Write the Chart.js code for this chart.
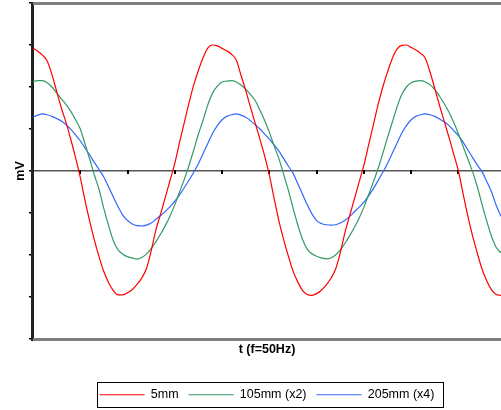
<!DOCTYPE html>
<html>
<head>
<meta charset="utf-8">
<script src="https://cdn.jsdelivr.net/npm/chart.js@4"></script>
<style>
  body { margin: 0; background: #fff; }
  #wrap { width: 501px; height: 410px; }
</style>
</head>
<body>
<div id="wrap"><canvas id="myChart"></canvas></div>
<script>
// sample times in ms (0.5 ms steps)
const times = Array.from({ length: 100 }, (_, i) => i * 0.5);
const xTicks = [5, 10, 15, 20, 25, 30, 35, 40, 45];
const seriesNames = ["5mm", "105mm (x2)", "205mm (x4)"];

// 5mm
const red5mm = [
  2.93, 2.85, 2.76, 2.62, 2.3, 1.9, 1.5, 1.15, 0.75, 0.32,
  -0.15, -0.7, -1.2, -1.65, -2.05, -2.4, -2.66, -2.85, -2.95, -2.95,
  -2.9, -2.82, -2.7, -2.55, -2.32, -1.9, -1.4, -1.02, -0.62, -0.22,
  0.18, 0.68, 1.15, 1.62, 2.05, 2.4, 2.7, 2.93, 3.0, 2.98,
  2.92, 2.86, 2.78, 2.64, 2.28, 1.92, 1.52, 1.14, 0.76, 0.36,
  -0.1, -0.65, -1.18, -1.62, -2.02, -2.38, -2.64, -2.84, -2.94, -2.96,
  -2.92, -2.84, -2.72, -2.56, -2.34, -1.95, -1.46, -1.06, -0.66, -0.26,
  0.14, 0.62, 1.1, 1.58, 2.0, 2.36, 2.68, 2.9, 2.99, 3.0,
  2.94, 2.88, 2.8, 2.68, 2.35, 1.96, 1.56, 1.18, 0.8, 0.4,
  0.0, -0.55, -1.08, -1.55, -1.96, -2.34, -2.62, -2.83, -2.94, -2.96
];
// 105mm (x2)
const green105mm = [
  2.13, 2.15, 2.15, 2.1, 2.0, 1.86, 1.72, 1.58, 1.42, 1.22,
  1.0, 0.65, 0.28, -0.1, -0.45, -0.9, -1.3, -1.66, -1.88, -1.98,
  -2.04, -2.07, -2.1, -2.06, -1.98, -1.85, -1.68, -1.5, -1.3, -1.07,
  -0.8, -0.5, -0.2, 0.13, 0.5, 0.88, 1.22, 1.58, 1.86, 2.02,
  2.12, 2.14, 2.15, 2.12, 2.05, 1.95, 1.82, 1.68, 1.45, 1.2,
  0.92, 0.6, 0.3, -0.07, -0.45, -0.88, -1.28, -1.62, -1.86, -1.97,
  -2.03, -2.07, -2.09, -2.07, -2.0, -1.88, -1.72, -1.54, -1.34, -1.12,
  -0.86, -0.56, -0.26, 0.06, 0.42, 0.8, 1.16, 1.52, 1.82, 2.0,
  2.1, 2.14, 2.15, 2.12, 2.05, 1.94, 1.78, 1.6, 1.4, 1.16,
  0.88, 0.58, 0.28, -0.02, -0.38, -0.8, -1.2, -1.56, -1.82, -1.95
];
// 205mm (x4)
const blue205mm = [
  1.28, 1.33, 1.36, 1.34, 1.3, 1.25, 1.19, 1.1, 0.99, 0.86,
  0.72, 0.55, 0.38, 0.2, 0.03, -0.15, -0.38, -0.62, -0.85, -1.05,
  -1.18, -1.26, -1.3, -1.31, -1.29, -1.24, -1.15, -1.06, -0.96, -0.85,
  -0.72, -0.57, -0.4, -0.22, -0.03, 0.18, 0.42, 0.66, 0.9, 1.08,
  1.22, 1.3, 1.34, 1.36, 1.33, 1.28, 1.2, 1.1, 1.0, 0.88,
  0.76, 0.62, 0.48, 0.3, 0.12, -0.05, -0.3, -0.55, -0.8, -1.02,
  -1.18, -1.25, -1.28, -1.29, -1.28, -1.24, -1.17, -1.08, -0.97, -0.86,
  -0.74, -0.59, -0.42, -0.23, -0.03, 0.18, 0.42, 0.66, 0.9, 1.08,
  1.22, 1.3, 1.34, 1.36, 1.34, 1.3, 1.24, 1.17, 1.08, 0.96,
  0.84, 0.68, 0.5, 0.32, 0.14, -0.02, -0.25, -0.5, -0.82, -1.08
];

const font = "Arial, 'Liberation Sans', sans-serif";

// excel-ish frame: top/bottom lines, ticks on the zero line, legend box
const framePlugin = {
  id: "framePlugin",
  beforeDatasetsDraw(chart) {
    const { ctx, scales } = chart;
    const y0 = scales.y.getPixelForValue(0);
    ctx.save();
    ctx.fillStyle = "#000";
    xTicks.forEach((t) => {
      const x = Math.round(scales.x.getPixelForValue(t));
      ctx.fillRect(x - 1, Math.round(y0) - 1, 2, 4);
    });
    ctx.restore();
  },
  afterDraw(chart) {
    const { ctx, chartArea } = chart;
    const l = Math.round(chartArea.left);
    const t = Math.round(chartArea.top);
    const b = Math.round(chartArea.bottom);
    const w = chart.width - l;
    ctx.save();
    ctx.fillStyle = "#7f7f7f";
    ctx.fillRect(l, t - 1, w, 3);
    ctx.fillRect(l, b - 1, w, 3);
    // left axis over the frame ends
    ctx.fillStyle = "#222";
    ctx.fillRect(l - 2, t - 1, 2, b - t + 3);

    const boxes = chart.legend.legendHitBoxes;
    if (boxes && boxes.length) {
      const bl = Math.min(...boxes.map((bx) => bx.left));
      const br = Math.max(...boxes.map((bx) => bx.left + bx.width));
      const cy = boxes[0].top + boxes[0].height / 2;
      ctx.strokeStyle = "#000";
      ctx.lineWidth = 1;
      ctx.strokeRect(Math.round(bl - 3) + 0.5, Math.round(cy - 12.5) + 0.5, Math.round(br - bl + 11), 25);
    }
    ctx.restore();
  },
};

const chartOne = document.getElementById("myChart").getContext("2d");
const waveChart = new Chart(chartOne, {
  type: "line",
  data: {
    labels: times,
    datasets: [
      { label: seriesNames[0], data: red5mm, borderColor: "#ff0000", backgroundColor: "#ff0000" },
      { label: seriesNames[1], data: green105mm, borderColor: "#339966", backgroundColor: "#339966" },
      { label: seriesNames[2], data: blue205mm, borderColor: "#3366ff", backgroundColor: "#3366ff" },
    ],
  },
  options: {
    responsive: true,
    maintainAspectRatio: false,
    animation: false,
    layout: { padding: { left: 4, top: 3, right: 0, bottom: -1 } },
    elements: {
      point: { radius: 0 },
      line: { borderWidth: 1.2, cubicInterpolationMode: "monotone" },
    },
    scales: {
      x: {
        type: "linear",
        min: 0,
        max: 49.5,
        ticks: { display: false },
        grid: { display: false, drawTicks: false },
        border: { display: false },
        title: {
          display: true,
          text: "t (f=50Hz)",
          color: "#000",
          font: { family: font, size: 12.5, weight: "bold" },
          padding: { top: 3.5, bottom: 21 },
        },
      },
      y: {
        min: -4,
        max: 4,
        ticks: { display: false, stepSize: 1 },
        grid: {
          color: (c) => (c.tick && c.tick.value === 0 ? "#555" : "rgba(0,0,0,0)"),
          lineWidth: 1.5,
          tickColor: "#000",
          tickLength: 4,
          drawTicks: true,
        },
        border: { display: true, color: "#222", width: 2 },
        title: {
          display: true,
          text: "mV",
          color: "#000",
          font: { family: font, size: 12.5, weight: "bold" },
          padding: { top: 9.5, bottom: 0.5 },
        },
      },
    },
    plugins: {
      tooltip: { enabled: false },
      legend: {
        display: true,
        position: "bottom",
        fullSize: false,
        labels: {
          usePointStyle: true,
          pointStyle: "line",
          pointStyleWidth: 45,
          padding: 10,
          color: "#000",
          font: { family: font, size: 12.5 },
        },
      },
    },
  },
  plugins: [framePlugin],
});
</script>
</body>
</html>
